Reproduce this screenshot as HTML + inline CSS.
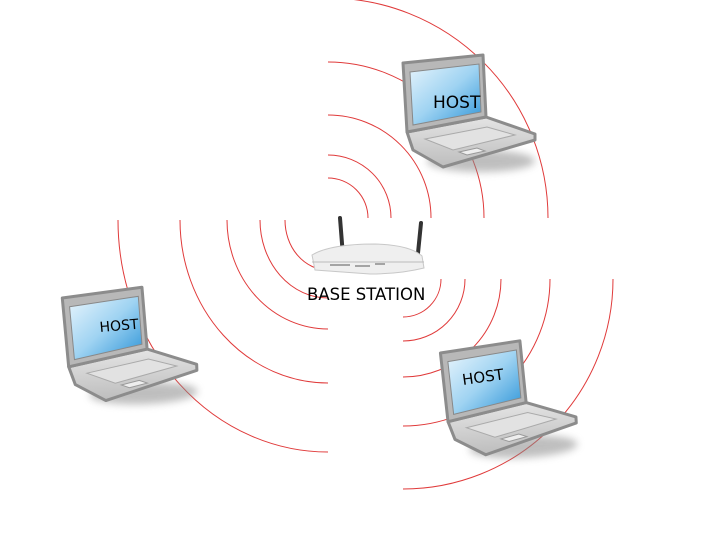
<!DOCTYPE html>
<html><head><meta charset="utf-8"><style>
html,body{margin:0;padding:0;background:#fff;width:720px;height:540px;overflow:hidden}
svg{display:block}
text{font-family:"DejaVu Sans","Liberation Sans",sans-serif}
</style></head><body>
<svg width="720" height="540" viewBox="0 0 720 540" xmlns="http://www.w3.org/2000/svg">
<defs>
<linearGradient id="scr" x1="0" y1="0" x2="1" y2="1">
<stop offset="0" stop-color="#e6f4fc"/><stop offset="0.5" stop-color="#9fd3f2"/><stop offset="1" stop-color="#2f95d8"/>
</linearGradient>
<linearGradient id="bs" x1="0" y1="0" x2="0" y2="1">
<stop offset="0" stop-color="#e4e4e4"/><stop offset="1" stop-color="#bdbdbd"/>
</linearGradient>
<filter id="bl" x="-50%" y="-50%" width="200%" height="200%"><feGaussianBlur stdDeviation="4"/></filter>
<g id="lap">
<ellipse cx="78" cy="106" rx="54" ry="11" fill="#8a8a8a" opacity="0.55" filter="url(#bl)"/>
<path d="M4,77 L83,62 L132,79 L132,85 L40,112 L10,95 Z" fill="url(#bs)" stroke="#8c8c8c" stroke-width="3" stroke-linejoin="round"/>
<path d="M22,84 L84,72 L112,80 L50,95 Z" fill="#e2e2e2" stroke="#aaa" stroke-width="1"/>
<path d="M56,97 L74,93 L82,96 L64,100 Z" fill="#eee" stroke="#999" stroke-width="1"/>
<path d="M0,8 L80,0 L83,62 L4,77 Z" fill="#b8b8b8" stroke="#8c8c8c" stroke-width="3" stroke-linejoin="round"/>
<path d="M7,17 L76,9 L78,57 L10,70 Z" fill="url(#scr)" stroke="#888" stroke-width="1"/>
</g>
</defs>
<g fill="none" stroke="#e03a3a" stroke-width="1">
<path d="M328,178 A40,40 0 0 1 368,218"/>
<path d="M328,155 A63,63 0 0 1 391,218"/>
<path d="M328,115 A103,103 0 0 1 431,218"/>
<path d="M328,62 A156,156 0 0 1 484,218"/>
<path d="M328,-2 A220,220 0 0 1 548,218"/>
<path d="M285,220 A43,50 0 0 0 328,270"/>
<path d="M260,220 A68,78 0 0 0 328,298"/>
<path d="M227,220 A101,109 0 0 0 328,329"/>
<path d="M180,220 A148,163 0 0 0 328,383"/>
<path d="M118,220 A210,232 0 0 0 328,452"/>
<path d="M441,279 A38,38 0 0 1 403,317"/>
<path d="M465,279 A62,62 0 0 1 403,341"/>
<path d="M501,279 A98,98 0 0 1 403,377"/>
<path d="M550,279 A147,147 0 0 1 403,426"/>
<path d="M613,279 A210,210 0 0 1 403,489"/>
</g>
<use href="#lap" transform="translate(403,55)"/>
<use href="#lap" transform="translate(62,290) rotate(-2)"/>
<use href="#lap" transform="translate(440,345) rotate(-3)"/>
<text x="433" y="108" font-size="17">HOST</text>
<text x="100" y="332" font-size="14" transform="rotate(-5 100 332)">HOST</text>
<text x="463" y="385" font-size="15" transform="rotate(-8 463 385)">HOST</text>
<path d="M340,218 L343,256" stroke="#333" stroke-width="4" stroke-linecap="round"/>
<path d="M421,223 L418,253" stroke="#333" stroke-width="4" stroke-linecap="round"/>
<path d="M312,255 Q330,244 375,244 Q410,245 422,256 L424,268 Q400,274 370,274 L315,270 Z" fill="#efefef" stroke="#c8c8c8" stroke-width="1"/>
<path d="M312,262 L424,262" stroke="#bbb" stroke-width="1"/>
<path d="M330,265 L350,265 M355,266 L370,266 M375,264 L385,264" stroke="#777" stroke-width="1.2"/>
<text x="307" y="300" font-size="16.5">BASE STATION</text>
</svg>
</body></html>
